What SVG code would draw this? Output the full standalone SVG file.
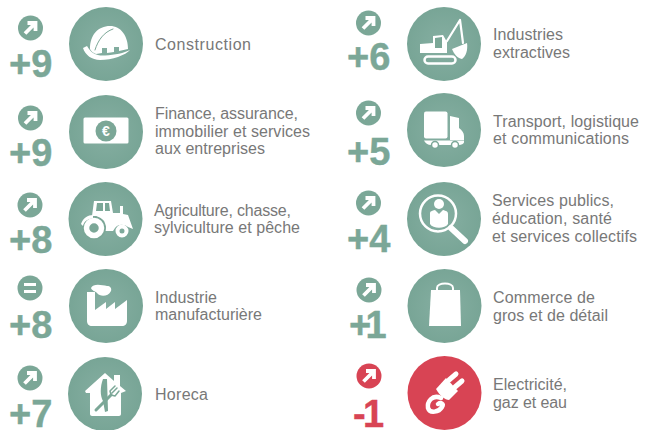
<svg xmlns="http://www.w3.org/2000/svg" width="654" height="430" viewBox="0 0 654 430">
<style>
text{font-family:"Liberation Sans",Arial,sans-serif}
.t{font-size:16px;fill:#787878}
.n{font-size:38px;font-weight:bold;fill:#7ba797;stroke:#7ba797;stroke-width:.4}
.r{fill:#d84454;stroke:#d84454}
.g{fill:url(#gg)}
.rc{fill:#d84454}
.w{fill:#fff}
.ws{fill:none;stroke:#fff;stroke-linecap:round;stroke-linejoin:round}
.gs{fill:none;stroke:#7ba797;stroke-linecap:round;stroke-linejoin:round}
.gf{fill:#7ba797}
.sm{fill:#7ba797}
</style>
<defs>
<radialGradient id="gg"><stop offset="0" stop-color="#86afa2"/><stop offset="1" stop-color="#78a596"/></radialGradient>
<path id="up" d="M-5.500 5.500L3-3M-3-5H5V3" fill="none" stroke="#fff" stroke-width="3.800"/>
</defs>
<g id="connectors"/>
<g id="n1"><circle cx="30.500" cy="28" r="12.500" class="sm"/><use href="#up" x="30.500" y="28"/><text x="9" y="77" class="n">+9</text><circle cx="106" cy="44" r="37" class="g"/>
<path class="w" d="M90 49C90 35 98 26 110 26C121 26 128 36 128 49L119 51V47H114V52L107 53V48H102V53L96 54C93 53 91 51 90 49Z"/><path class="w" d="M83 48L87 46C91 53 96 56 105 55.500C115 55 124 53 130 50C126 55 112 60 100 60C92 60 85 55 83 48Z"/><path class="gs" stroke-width="1" d="M95 50C98 40 104 32 113 29"/>
<text x="155" y="49.500" class="t" textLength="96">Construction</text></g>
<g id="n2"><circle cx="30.500" cy="118" r="12.500" class="sm"/><use href="#up" x="30.500" y="118"/><text x="9" y="166" class="n">+9</text><circle cx="106" cy="132" r="37" class="g"/>
<rect x="83.500" y="117.500" width="45" height="26" rx="1.500" class="w"/><circle cx="106" cy="131" r="10.500" class="sm"/><text x="106" y="136" text-anchor="middle" style="font-size:14px;font-weight:bold;fill:#fff">€</text>
<text x="155" y="118.500" class="t" textLength="143">Finance, assurance,</text><text x="155" y="136.500" class="t" textLength="155">immobilier et services</text><text x="155" y="154" class="t" textLength="110">aux entreprises</text></g>
<g id="n3"><circle cx="30" cy="205" r="12.500" class="sm"/><use href="#up" x="30" y="205"/><text x="9" y="253" class="n">+8</text><circle cx="105.500" cy="219" r="37" class="g"/>
<path class="w" d="M92 216L94 201H111L113 213L120 213V206H123V214L128 215L133 229L128 227C124 224 118 224 115 228L113 231H104V221L96 216Z"/><path class="gf" d="M97 203H103V211H96ZM105 203H109L110 211H105Z"/>
<circle cx="94" cy="228" r="12" class="gf"/><circle cx="94" cy="228" r="7.500" class="ws" stroke-width="5.500"/><circle cx="122" cy="231" r="4.500" class="ws" stroke-width="4"/><path class="w" d="M81 224C83 218 88 215 93 215L93 218C88 219 84 221 83 226Z"/>
<text x="154" y="215.500" class="t" textLength="137">Agriculture, chasse,</text><text x="154" y="233" class="t" textLength="146">sylviculture et pêche</text></g>
<g id="n4"><circle cx="30" cy="288" r="12.500" class="sm"/><path d="M24 284.500H36M24 291.500H36" stroke="#fff" stroke-width="3.200"/><text x="9" y="338" class="n">+8</text><circle cx="106" cy="306" r="37" class="g"/>
<path class="w" d="M87 292H95V310L106 302V309L115 302V309L127 300V321C127 324 125 326 122 326H92C89 326 87 324 87 321Z"/><path class="w" d="M91 288C93 283 102 285 107 286C110 286 112 288 111 291C108 297 100 297 97 293C95 291 92 291 91 288Z"/>
<text x="155" y="302.500" class="t" textLength="62">Industrie</text><text x="155" y="320" class="t" textLength="107">manufacturière</text></g>
<g id="n5"><circle cx="30" cy="378" r="12.500" class="sm"/><use href="#up" x="30" y="378"/><text x="9" y="427" class="n">+7</text><circle cx="105" cy="394" r="37" class="g"/>
<path class="w" d="M85 391L105 373L114 381V375H120V386L126 391L121 393V414C121 415 120 416 119 416H92C91 416 90 415 90 414V393L86 393Z"/><path class="gf" d="M103 379C100 387 100 396 103 401L105 412L108 411L107 379Z"/><path class="gs" stroke-width="3" d="M96 410L111 395"/><path class="gs" stroke-width="1.500" d="M111 395L110 391L115 386M111 395L115 396L119 391M112 393L117 388"/>
<text x="155" y="399.500" class="t" textLength="53">Horeca</text></g>
<g id="n6"><circle cx="368.500" cy="23" r="12.500" class="sm"/><use href="#up" x="368.500" y="23"/><text x="347" y="70" class="n">+6</text><circle cx="444" cy="44" r="37" class="g"/>
<path class="w" d="M420 44L433 43V36L443 35L447 42V53H420Z"/><path class="gf" d="M435 38L442 37V48H435Z"/><path class="ws" stroke-width="2.200" d="M447 41L460 20L463 43"/><path class="w" d="M452 49L467 43C468 50 466 56 462 59C457 58 454 54 452 49Z"/><rect x="424.500" y="56.500" width="31" height="7" rx="3.500" class="ws" stroke-width="2.500"/>
<text x="493" y="40" class="t" textLength="70">Industries</text><text x="493" y="58" class="t" textLength="77">extractives</text></g>
<g id="n7"><circle cx="368.500" cy="113" r="12.500" class="sm"/><use href="#up" x="368.500" y="113"/><text x="347" y="165" class="n">+5</text><circle cx="444" cy="130" r="37" class="g"/>
<rect x="424" y="111.500" width="23.500" height="27" rx="2" class="w"/><path class="w" d="M450 116L459 118V128C462 130 464 133 464 136V140H450Z"/><path class="w" d="M424 140.500H464V142C464 144 461 145 459 145H431C428 145 425 143 424 140.500Z"/><circle cx="435" cy="145" r="3.500" class="w" stroke="#7ba797" stroke-width="1.500"/><circle cx="455" cy="145" r="3.500" class="w" stroke="#7ba797" stroke-width="1.500"/>
<text x="493" y="127" class="t" textLength="146">Transport, logistique</text><text x="493" y="144" class="t" textLength="136">et communications</text></g>
<g id="n8"><circle cx="368.500" cy="203" r="12.500" class="sm"/><use href="#up" x="368.500" y="203"/><text x="347" y="252" class="n">+4</text><circle cx="444" cy="219" r="37" class="g"/>
<circle cx="438" cy="213.500" r="18" class="ws" stroke-width="2.500"/><path class="ws" stroke-width="6" d="M451 228L465 241"/><circle cx="439" cy="204" r="5" class="w"/><path class="w" d="M430 213C430 211 432 211 435 210L439 214L443 210C446 211 448 211 448 214V224C445 229 433 229 430 224Z"/>
<text x="492" y="206" class="t" textLength="122">Services publics,</text><text x="492" y="224" class="t" textLength="120">éducation, santé</text><text x="492" y="242" class="t" textLength="145">et services collectifs</text></g>
<g id="n9"><circle cx="369" cy="290" r="12.500" class="sm"/><use href="#up" x="369" y="290"/><text x="349 365.500" y="338" class="n">+1</text><circle cx="444.500" cy="306" r="37" class="g"/>
<path class="w" d="M431 290H460L461 326H429Z"/><path class="ws" stroke-width="2" d="M437 290V288C437 282 453 282 453 288V290"/>
<text x="493" y="302.500" class="t" textLength="102">Commerce de</text><text x="493" y="321" class="t" textLength="115">gros et de détail</text></g>
<g id="n10"><circle cx="369" cy="376" r="12.500" class="rc"/><use href="#up" x="369" y="376"/><text x="353 363" y="427" class="n r">-1</text><circle cx="444.500" cy="393" r="37" class="rc"/>
<path class="w" d="M436 389L446 378L458 391L449 400C445 400 440 396 436 389Z"/><path class="ws" stroke-width="5" d="M449 380L456 374M455 387L462 381"/><path class="ws" stroke-width="4.500" d="M441 398C432 394 427 402 428 408C430 414 439 412 442 407C444 404 441 402 438 404"/>
<text x="493" y="390" class="t" textLength="74">Electricité,</text><text x="493" y="408" class="t" textLength="74">gaz et eau</text></g>
</svg>
